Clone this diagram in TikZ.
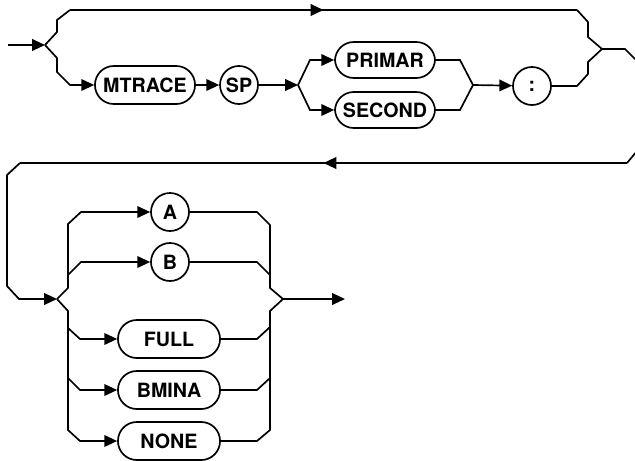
\documentclass[tikz,border=0pt]{standalone}
\usepackage{fontspec}
\setmainfont{TeX Gyre Heros}
\usetikzlibrary{arrows.meta}
\usetikzlibrary{decorations.markings}

\tikzset{
  arr/.style={-{Triangle[length=0.32cm,width=0.29cm]}},
  keybox/.style={draw, rectangle, rounded corners=0.47cm, minimum height=0.95cm,
    font=\fontsize{14}{16}\selectfont\bfseries, inner sep=2pt},
  keycirc/.style={draw, circle, minimum size=0.95cm, inner sep=0pt,
    font=\fontsize{14}{16}\selectfont\bfseries}
}

\begin{document}
\begin{tikzpicture}[x=0.025cm,y=-0.025cm,line width=1.2pt]
  \useasboundingbox (0,0) rectangle (635,460);
  \def\xa{57}
  \def\xb{588}
  \def\xl{68}
  \def\xr{270}

  %Keywords, first line
  \node[keybox, minimum width=2.5cm] (mtrace) at (145,85) {MTRACE};
  \node[keycirc] (sp) at (239,85) {SP};
  \node[keybox, minimum width=2.5cm, minimum height=0.9cm] (primar) at (385,60) {PRIMAR};
  \node[keybox, minimum width=2.5cm, minimum height=0.9cm] (second) at (385,110) {SECOND};
  \node[keycirc] (colon) at (532,86) {:};

  %Keywords, second line
  \node[keycirc] (a) at (170,212) {A};
  \node[keycirc] (b) at (170,262) {B};
  \node[keybox, minimum width=2.55cm] (full) at (169,339) {FULL};
  \node[keybox, minimum width=2.55cm] (bmina) at (169,390) {BMINA};
  \node[keybox, minimum width=2.55cm] (none) at (169,441) {NONE};

  %Branch and join points
  \coordinate (s1) at (45,45);
  \coordinate (j1) at (602,49);
  \coordinate (s2) at (298,85);
  \coordinate (j2) at (473,85);
  \coordinate (s3) at (57,299);
  \coordinate (j3) at (283,299);

  %Long lines with arrow in the middle
  \begin{scope}[decoration={
    markings,
    mark=at position 0.5 with {\arrow{Triangle[length=0.32cm,width=0.29cm]}}}
    ]
    \draw[postaction={decorate}] (70,10) coordinate (t1) -- (577,10) coordinate (t2);
    \draw[postaction={decorate}] (627,163) coordinate (r1) -- (20,163) coordinate (r2);
  \end{scope}

  %First line
  \draw[arr] (8,45) coordinate (in) -- (s1);
  \draw (s1) -- (\xa,32) -- (\xa,20) -- (t1);
  \draw (t2) -- (\xb,22) -- (\xb,37) -- (j1);
  \draw[arr] (s1) -- (\xa,58) -- (\xa,72) -- (70,85) -- (mtrace);
  \draw[arr] (mtrace) -- (sp);
  \draw[arr] (sp) -- (s2);
  \draw[arr] (s2) -- (310,60) -- (primar);
  \draw[arr] (s2) -- (310,110) -- (second);
  \draw (primar) -- (460,60) -- (j2);
  \draw (second) -- (460,110) -- (j2);
  \draw[arr] (j2) -- (colon);
  \draw (colon) -- (577,86) -- (\xb,74) -- (\xb,62) -- (j1);
  \draw (j1) -- (625,49) -- (637,61) -- (637,151) -- (r1);
  \draw[arr] (r2) -- (7,175) -- (7,286) -- (19,299) -- (s3);

  %Second line, left side
  \draw[arr] (s3) -- (\xl,288) -- (\xl,224) -- (81,212) -- (a);
  \draw[arr] (\xl,275) -- (81,262) -- (b);
  \draw[arr] (s3) -- (\xl,311) -- (\xl,328) -- (80,339) -- (full);
  \draw[arr] (\xl,378) -- (80,390) -- (bmina);
  \draw[arr] (\xl,328) -- (\xl,430) -- (80,441) -- (none);

  %Second line, right side
  \draw (a) -- (257,212) -- (\xr,225) -- (\xr,288) -- (j3);
  \draw (b) -- (257,262) -- (\xr,275);
  \draw (full) -- (257,339) -- (\xr,327);
  \draw (bmina) -- (257,390) -- (\xr,378);
  \draw (none) -- (257,441) -- (\xr,430) -- (\xr,311) -- (j3);
  \draw[arr] (j3) -- (345,299) coordinate (out);
\end{tikzpicture}
\end{document}
